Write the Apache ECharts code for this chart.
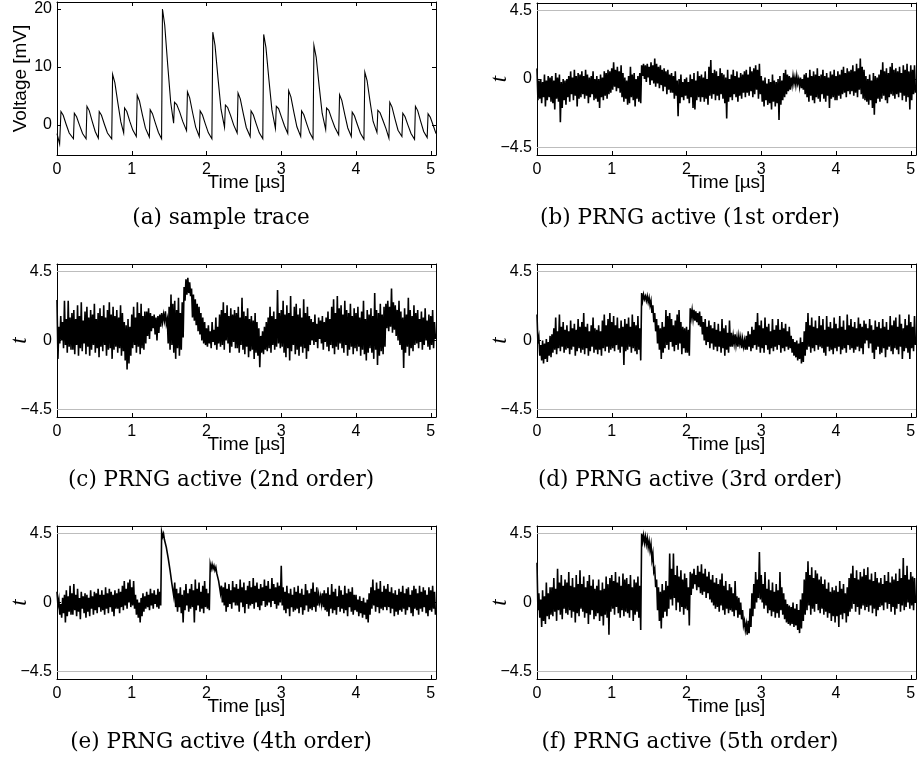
<!DOCTYPE html>
<html><head><meta charset="utf-8">
<script src="https://cdn.jsdelivr.net/npm/echarts@6/dist/echarts.min.js"></script>
<style>html,body{margin:0;padding:0;background:#fff}#c{width:920px;height:760px}</style>
</head><body><div id="c"></div>
<script>
// ---------- data ----------
const timeTicks = [0, 1, 2, 3, 4, 5];
const tTicks = [-4.5, 0, 4.5];
const voltTicks = [0, 10, 20];
const tThreshold = [4.5, -4.5];
const captions = ['(a) sample trace', '(b) PRNG active (1st order)', '(c) PRNG active (2nd order)',
  '(d) PRNG active (3rd order)', '(e) PRNG active (4th order)', '(f) PRNG active (5th order)'];

// (a) sample trace: time [µs] / voltage [mV]
const sampleTime = [
  0, 0.035, 0.053, 0.083, 0.123, 0.163, 0.220, 0.232, 0.262, 0.302, 0.342, 0.389, 0.401, 0.431, 0.471, 0.511,
  0.553, 0.565, 0.595, 0.635, 0.675, 0.732, 0.744, 0.774, 0.814, 0.854, 0.892, 0.904, 0.934, 0.974, 1.014,
  1.061, 1.073, 1.103, 1.143, 1.183, 1.235, 1.247, 1.277, 1.317, 1.357, 1.399, 1.411, 1.441, 1.481, 1.521,
  1.560, 1.572, 1.602, 1.642, 1.682, 1.733, 1.745, 1.775, 1.815, 1.855, 1.903, 1.915, 1.945, 1.985, 2.025,
  2.072, 2.084, 2.114, 2.154, 2.194, 2.241, 2.253, 2.283, 2.323, 2.363, 2.410, 2.422, 2.452, 2.492, 2.532,
  2.584, 2.596, 2.626, 2.666, 2.706, 2.753, 2.765, 2.795, 2.835, 2.875, 2.922, 2.934, 2.964, 3.004, 3.044,
  3.087, 3.099, 3.129, 3.169, 3.209, 3.260, 3.272, 3.302, 3.342, 3.382, 3.425, 3.437, 3.467, 3.507, 3.547,
  3.594, 3.606, 3.636, 3.676, 3.716, 3.768, 3.780, 3.810, 3.850, 3.890, 3.937, 3.949, 3.979, 4.019, 4.059,
  4.106, 4.118, 4.148, 4.188, 4.228, 4.280, 4.292, 4.322, 4.362, 4.402, 4.440, 4.452, 4.482, 4.522, 4.562,
  4.614, 4.626, 4.656, 4.696, 4.736, 4.783, 4.795, 4.825, 4.865, 4.905, 4.952, 4.964, 4.994, 5.034, 5.07];
const sampleVoltage = [
  -1.5, -3.3, 2.3, 1.66, 0.07, -1.41, -2.4, 2.0, 1.4, -0.1, -1.5, -2.4, 3.2, 2.46, 0.6, -1.14,
  -2.3, 2.3, 1.66, 0.07, -1.41, -2.4, 8.7, 7.3, 3.79, 0.51, -1.4, 2.9, 2.3, 0.6, -0.9,
  -2.0, 5.1, 4.13, 1.7, -0.57, -2.1, 2.6, 1.93, 0.25, -1.32, -2.4, 20.0, 17.24, 10.34, 3.9,
  0.3, 3.9, 3.5, 2.2, 0.6, -1.0, 5.7, 4.66, 2.05, -0.39, -2.0, 2.4, 1.75, 0.13, -1.38,
  -2.4, 16.0, 13.72, 8.02, 2.7, -0.4, 3.4, 3.0, 1.6, 0.0, -1.4, 5.5, 4.48, 1.93, -0.45,
  -2.0, 2.4, 1.75, 0.13, -1.38, -2.4, 15.6, 13.37, 7.79, 2.58, -0.6, 3.2, 2.8, 1.3, -0.2,
  -1.5, 5.9, 4.83, 2.16, -0.33, -2.0, 2.4, 1.75, 0.13, -1.38, -2.4, 13.7, 11.7, 6.69, 2.01,
  -0.8, 2.9, 2.5, 1.0, -0.4, -1.7, 5.2, 4.22, 1.76, -0.54, -2.0, 2.2, 1.58, 0.02, -1.44,
  -2.5, 9.1, 7.65, 4.02, 0.63, -1.3, 2.5, 2.1, 0.7, -0.7, -2.3, 3.9, 3.07, 1.0, -0.93,
  -2.0, 2.0, 1.4, -0.1, -1.5, -2.5, 3.2, 2.46, 0.6, -1.14, -2.2, 1.9, 1.31, -0.16, -1.5];

// (b)-(f): t-statistic traces, local upper / lower excursions every 0.025 µs
const noiseStep = 0.025;
const hiB = [
  0.7,-0.1,0.0,-0.2,0.3,-0.1,0.2,0.1, 0.2,-0.1,0.4,0.1,0.3,-0.2,0.0,-0.1, 0.0,0.2,0.5,0.1,0.6,0.2,0.4,0.3,
  0.5,0.2,0.6,0.3,0.1,0.2,0.5,0.0, 0.2,0.0,0.3,0.1,0.5,0.4,0.6,0.5, 0.7,1.1,0.6,0.8,0.5,0.9,0.4,0.1,
  -0.1,0.2,0.8,0.3,0.4,0.0,0.2,0.4, 0.9,1.0,0.9,1.0,0.8,1.1,0.9,1.35, 1.0,0.8,0.9,0.6,0.7,0.5,0.6,0.3,
  0.4,0.2,0.5,-0.1,0.0,0.3,-0.2,0.0, 0.1,-0.2,0.3,0.0,0.4,-0.1,0.5,0.2, 0.3,0.1,0.5,0.0,0.8,1.25,0.4,0.6,
  0.5,0.2,0.7,0.4,0.3,0.1,0.6,0.0, 0.3,0.6,0.2,0.5,0.1,0.4,0.3,0.5, 0.6,0.3,0.8,0.5,0.7,0.9,0.6,1.0,
  0.2,-0.1,0.1,-0.3,0.0,-0.2,0.3,-0.1, -0.2,0.0,0.2,-0.1,0.4,0.6,0.3,0.2, 0.1,0.2,0.1,0.2,0.0,0.1,0.0,0.3,
  0.4,0.1,0.6,0.2,0.5,0.3,0.7,0.2, 0.3,0.6,0.2,0.4,0.1,0.5,0.3,0.6, 0.2,0.5,0.3,0.6,0.8,0.4,0.7,0.5,
  0.6,0.9,0.5,1.0,0.7,1.35,0.8,0.6, 0.2,0.0,0.3,-0.1,0.4,0.2,0.1,0.3, 0.6,1.1,0.5,0.7,0.4,0.8,1.05,0.6,
  0.7,0.5,0.8,0.4,0.9,0.6,1.0,0.5, 0.9,0.6,0.9];
const loB = [
  -1.4,-1.3,-1.6,-1.2,-1.8,-1.4,-1.2,-1.5, -1.6,-2.0,-1.3,-1.5,-2.85,-1.9,-1.4,-1.7, -1.2,-1.5,-1.0,-1.4,-1.1,-1.8,-1.3,-1.2,
  -1.0,-1.3,-1.1,-1.6,-1.2,-1.0,-1.4,-1.3, -1.5,-1.9,-1.2,-1.4,-1.1,-1.3,-1.0,-0.9, -0.7,-0.5,-0.8,-0.6,-0.9,-1.2,-1.5,-1.3,
  -1.7,-1.6,-1.2,-1.4,-1.8,-1.3,-1.5,-1.6, 0.2,0.0,-0.2,0.1,-0.4,-0.1,-0.3,-0.5, -0.3,-0.6,-0.4,-0.8,-0.5,-1.0,-0.7,-0.9,
  -0.9,-1.3,-1.1,-2.45,-1.6,-1.2,-1.4,-1.1, -1.3,-1.6,-1.2,-1.9,-2.0,-1.4,-1.2,-1.5, -1.2,-1.5,-1.3,-1.7,-1.1,-1.3,-1.0,-1.4,
  -1.1,-1.4,-1.0,-1.3,-1.6,-2.6,-1.5,-1.2, -1.4,-1.0,-1.2,-1.5,-1.1,-1.3,-0.9,-1.2, -0.9,-1.1,-0.8,-1.2,-1.0,-0.7,-1.3,-1.0,
  -1.5,-1.8,-1.4,-1.7,-1.6,-2.0,-1.5,-1.8, -1.6,-2.7,-1.7,-1.4,-1.2,-1.0,-0.8,-0.7, -0.4,-0.3,-0.4,-0.3,-0.5,-0.6,-0.7,-1.0,
  -1.2,-1.5,-1.1,-1.4,-1.6,-1.2,-1.3,-1.5, -1.0,-1.3,-1.5,-1.1,-1.9,-1.3,-1.2,-1.4, -1.4,-1.1,-1.3,-1.0,-0.9,-1.2,-0.8,-1.0,
  -0.8,-1.1,-0.9,-1.2,-0.7,-1.0,-1.3,-1.4, -1.5,-1.7,-1.4,-1.9,-2.35,-1.6,-1.3,-1.5, -1.3,-1.1,-1.4,-1.6,-1.2,-1.0,-1.1,-1.3,
  -1.0,-1.2,-0.9,-1.4,-1.1,-1.5,-1.2,-2.0, -1.4,-1.0,-0.9];
const hiC = [
  2.65,0.9,1.6,1.2,2.6,1.4,2.6,1.5, 1.8,2.0,1.4,2.3,1.6,2.5,1.3,1.9, 2.2,1.5,2.0,1.7,2.4,1.4,1.8,2.1,
  1.6,2.3,1.5,2.0,2.5,1.7,2.2,1.6, 2.0,1.5,2.3,1.8,1.2,1.0,1.4,0.9, 1.7,2.2,1.5,2.5,1.8,2.4,1.6,1.9,
  1.9,2.1,1.8,1.6,1.7,1.5,1.6,1.7, 1.8,1.7,1.9,1.4,2.2,3.0,2.4,2.6, 2.0,2.8,1.8,2.5,3.5,4.0,4.1,3.8,
  3.4,3.0,2.7,2.4,2.2,1.8,1.5,1.2, 0.8,1.0,0.6,1.2,0.7,1.5,0.9,1.7, 2.0,2.5,1.8,2.3,1.6,2.1,1.7,2.0,
  1.8,2.2,1.5,2.8,1.9,1.6,2.1,1.4, 1.6,1.3,1.8,1.2,0.8,0.3,0.6,0.9, 1.2,1.5,2.2,1.6,1.9,1.4,3.3,1.8,
  2.0,2.6,1.7,2.3,1.8,2.9,1.6,2.2, 2.4,1.7,2.1,1.5,2.7,1.8,2.2,1.6, 1.4,1.2,1.7,1.1,1.5,1.3,1.6,1.2,
  1.5,1.9,1.4,2.2,2.7,1.8,2.9,2.1, 2.3,1.7,2.6,2.0,1.8,2.4,1.6,2.1, 1.8,2.2,1.5,1.9,2.6,1.4,2.0,1.7,
  2.1,1.6,3.1,2.0,1.8,2.4,1.7,2.2, 2.4,2.6,2.2,3.4,2.5,2.3,2.0,2.6, 1.9,1.5,2.1,1.7,2.8,2.0,1.6,2.3,
  1.8,2.0,1.4,1.9,1.5,2.1,1.3,1.7, 1.6,2.0,1.2];
const loC = [
  -1.2,-0.2,0.0,-0.5,-0.3,-0.8,-0.4,-0.6, -0.6,-0.9,-0.3,-1.0,-0.5,-0.7,-0.2,-0.9, -0.4,-1.0,-0.6,-0.3,-0.8,-0.5,-1.1,-0.4,
  -0.7,-0.3,-1.0,-0.6,-0.5,-1.2,-0.6,-0.4, -0.8,-0.5,-1.0,-0.7,-1.3,-1.9,-1.5,-1.0, -0.5,-0.3,-0.8,-0.4,-0.9,-0.5,-0.6,-0.2,
  0.3,0.1,0.6,0.8,0.4,0.0,0.5,0.9, 1.2,1.3,1.1,-0.2,-0.6,-0.3,-0.8,-1.2, -0.5,-1.0,-0.6,0.2,2.6,3.0,3.1,2.9,
  1.5,1.3,1.0,0.6,0.4,0.0,-0.2,-0.3, -0.4,-0.2,-0.5,-0.1,-0.3,-0.6,-0.2,-0.4, -0.3,-0.6,0.0,-0.2,-0.8,-0.4,-0.1,-0.5,
  -0.5,-0.8,-0.3,-0.6,-0.9,-0.4,-1.1,-0.7, -0.6,-1.2,-0.8,-1.0,-1.75,-0.8,-0.9,-0.6, -0.7,-0.5,-0.8,-0.3,-0.6,-0.4,-0.2,-0.5,
  -0.4,-0.8,-1.1,-0.5,-1.3,-0.7,-0.3,-0.9, -0.6,-1.0,-0.4,-0.8,-0.5,-1.2,-0.7,-0.3, 0.0,-0.3,-0.1,-0.5,0.1,-0.2,-0.6,-0.1,
  -0.4,-0.7,-0.3,-0.5,-0.9,-0.4,-0.6,-0.2, -0.5,-0.8,-0.3,-1.0,-0.6,-0.4,-0.9,-0.5, -0.7,-0.4,-1.0,-0.6,-0.9,-1.3,-0.8,-0.5,
  -0.8,-1.2,-0.6,-1.6,-1.0,-0.7,-0.9,-0.4, 0.8,0.6,0.9,0.5,0.7,0.3,0.0,-0.3, -0.6,-1.8,-0.8,-0.4,-1.0,-0.5,-0.7,-0.3,
  -0.2,-0.5,-0.1,-0.6,-0.3,0.0,-0.4,-0.6, -0.3,-0.5,0.1];
const hiD = [
  1.7,0.2,-0.3,0.0,-0.2,0.1,-0.1,0.3, 0.4,0.8,1.5,0.6,1.7,0.9,1.2,0.7, 1.0,0.6,1.3,0.8,1.1,0.7,1.4,0.9,
  1.2,1.8,0.9,1.1,0.6,1.0,1.5,0.8, 0.7,1.0,0.6,1.3,1.7,1.0,1.4,1.8, 1.2,1.6,1.0,1.5,0.8,1.3,0.9,1.4,
  1.1,1.5,0.9,1.7,1.2,1.0,1.6,0.8, 3.1,3.0,2.9,2.9,2.8,2.6,2.3,1.8, 1.4,1.0,0.8,1.2,0.9,2.0,1.6,1.8,
  1.4,1.0,1.3,1.7,2.0,1.2,0.9,0.8, 0.9,0.7,2.1,2.0,2.0,1.9,1.8,1.9, 1.6,1.2,1.4,0.9,1.3,1.0,0.8,1.2,
  0.7,1.1,0.6,1.4,0.8,1.0,0.5,1.3, 0.5,0.3,0.4,0.2,0.3,0.2,0.1,0.0, 0.3,0.6,0.4,0.9,0.7,1.2,1.8,1.0,
  1.3,0.8,1.5,0.9,1.1,0.6,1.4,0.7, 1.0,1.4,0.7,1.2,0.8,1.1,0.6,0.9, 0.3,0.1,-0.1,0.0,-0.2,0.2,-0.1,0.6,
  1.2,1.8,1.0,1.5,0.9,1.3,0.8,1.6, 1.0,1.4,0.7,1.6,0.9,1.2,0.8,1.5, 1.1,0.8,1.6,0.9,1.3,0.7,1.7,1.0,
  1.4,0.9,1.2,0.8,1.5,1.1,0.9,1.3, 1.1,0.8,1.4,1.0,0.7,1.3,0.9,1.2, 0.8,1.4,0.9,1.2,0.7,1.6,1.0,1.3,
  1.5,0.9,1.7,1.1,0.8,1.4,1.0,1.7, 1.2,0.9,1.6];
const loD = [
  -0.2,-1.0,-1.3,-1.5,-1.2,-1.4,-1.0,-1.1, -0.8,-0.6,-0.9,-0.5,-0.7,-0.4,-0.8,-0.6, -0.5,-0.9,-0.6,-0.4,-1.0,-0.7,-0.5,-0.8,
  -0.6,-0.9,-0.5,-1.0,-0.7,-0.4,-0.8,-0.6, -0.9,-0.6,-1.0,-0.5,-0.7,-0.4,-0.8,-0.6, -0.5,-0.7,-0.3,-0.6,-0.8,-0.4,-1.6,-0.7,
  -0.6,-0.4,-0.8,-0.5,-0.7,-0.9,-0.6,-1.3, 2.6,2.7,2.6,2.5,2.3,1.8,1.2,0.6, -0.2,-0.6,-1.2,-0.8,-0.5,-0.3,-0.6,-0.1,
  -0.4,-0.7,-0.3,-0.6,-0.2,-0.9,-0.5,-0.8, -0.8,-1.0,1.5,1.4,1.3,1.2,1.0,0.9, 0.4,0.0,-0.3,-0.1,-0.5,-0.2,-0.6,-0.4,
  -0.7,-0.4,-0.8,-0.5,-1.0,-0.6,-0.8,-0.4, -0.4,-0.2,-0.3,-0.4,-0.2,-0.5,-0.4,-0.6, -0.6,-0.4,-0.7,-0.5,-0.3,-0.6,-0.4,-0.8,
  -0.5,-0.8,-0.3,-0.6,-0.9,-0.5,-0.7,-0.4, -0.6,-0.3,-0.8,-0.5,-0.7,-0.4,-0.6,-0.5, -0.8,-1.0,-1.1,-1.3,-1.2,-1.5,-1.4,-1.0,
  -0.6,-0.4,-0.8,-0.5,-0.7,-0.3,-0.6,-0.4, -0.5,-0.8,-1.0,-0.4,-0.7,-0.6,-0.9,-0.5, -0.7,-0.4,-0.9,-0.6,-0.5,-0.8,-0.3,-0.6,
  -0.5,-0.8,-0.6,-0.4,-0.7,-0.5,-0.9,-0.2, 0.0,-0.5,-0.2,-0.8,-1.2,-0.6,-0.4,-0.9, -0.8,-0.5,-1.1,-0.6,-0.4,-0.7,-0.9,-0.5,
  -0.6,-0.9,-0.4,-1.2,-0.7,-0.5,-0.8,-1.2, -0.5,-0.7,-0.3];
const hiE = [
  0.7,0.2,-0.1,0.3,0.5,0.8,0.4,1.1, 0.6,1.2,0.5,0.9,0.3,0.7,0.4,0.6, 0.5,0.3,0.8,0.4,0.7,0.6,0.9,0.5,
  0.8,0.5,1.0,0.6,0.9,0.7,0.5,0.8, 0.6,0.9,0.7,1.1,1.4,0.9,1.3,1.5, 1.0,1.4,0.5,0.2,0.0,0.3,0.6,0.4,
  0.7,0.5,0.9,0.6,0.8,0.5,0.9,0.7, 4.6,4.5,4.0,3.5,2.8,2.0,1.3,1.3, 0.9,0.6,1.0,0.5,0.8,1.2,0.6,0.9,
  1.2,0.8,1.5,0.9,1.3,0.7,1.1,1.4, 0.9,0.6,2.5,2.5,2.4,2.3,2.0,1.5, 1.1,1.0,1.3,0.9,1.2,0.8,1.4,1.0,
  1.2,0.9,1.5,1.0,1.3,0.8,1.1,1.4, 1.0,1.6,1.1,1.3,0.9,1.2,1.0,1.5, 1.1,1.4,0.9,1.6,1.2,1.0,1.3,1.1,
  2.4,1.0,0.7,1.1,0.6,0.9,0.5,1.0, 0.7,1.1,0.6,0.9,0.5,1.2,0.8,0.6, 0.9,1.3,0.7,1.0,0.5,0.4,0.6,0.8,
  0.6,1.0,0.5,1.2,0.7,0.9,0.4,1.1, 0.8,0.5,1.1,0.6,0.9,0.7,1.0,0.5, 0.5,0.2,0.4,0.1,0.3,0.0,0.2,0.6,
  1.0,1.5,0.8,1.3,0.9,1.4,0.7,1.1, 0.9,1.2,0.7,1.0,0.6,0.8,0.5,0.9, 0.7,1.1,0.6,0.9,1.0,0.5,0.8,1.1,
  0.9,0.6,1.1,0.7,1.0,0.8,0.5,1.0, 0.8,1.1,0.7];
const loE = [
  -0.2,-0.8,-1.0,-0.7,-1.3,-0.9,-0.6,-0.8, -0.8,-0.5,-0.9,-0.6,-1.1,-0.4,-0.7,-1.0, -0.6,-0.9,-0.4,-0.8,-0.5,-0.7,-0.3,-0.6,
  -0.5,-0.8,-0.4,-0.7,-0.3,-0.6,-0.9,-0.4, -0.4,-0.7,-0.3,-0.5,-0.2,-0.4,0.0,-0.3, -0.2,-0.4,-0.8,-1.0,-1.3,-0.9,-0.6,-0.4,
  -0.3,-0.5,-0.2,-0.4,-0.1,-0.3,-0.4,-0.2, 4.3,4.1,3.6,2.9,2.1,1.2,0.4,-0.3, -0.6,-0.3,-0.7,-1.3,-0.5,-0.2,-0.6,-0.4,
  -0.3,-1.3,-0.5,-0.2,-0.6,-0.4,-0.7,-0.3, -0.4,-0.5,2.2,2.2,2.1,1.9,1.4,0.6, 0.0,-0.2,-0.6,-0.3,-0.1,-0.4,0.0,-0.2,
  -0.2,-0.6,0.0,-0.3,-0.7,-0.1,-0.4,-0.2, -0.1,-0.4,0.0,-0.3,-0.5,-0.2,0.1,-0.3, -0.2,0.0,-0.3,0.1,-0.1,-0.4,-0.2,0.0,
  -0.2,-0.5,-0.7,-0.4,-0.9,-0.3,-0.6,-0.5, -0.4,-0.7,-0.3,-0.8,-0.5,-0.2,-0.6,-0.4, -0.5,-0.3,-0.6,-0.2,0.0,-0.1,-0.3,-0.5,
  -0.6,-0.9,-0.4,-0.7,-0.5,-0.8,-0.3,-0.6, -0.4,-0.7,-0.5,-0.9,-0.3,-0.6,-0.8,-0.5, -0.6,-0.9,-0.7,-1.0,-0.8,-1.1,-1.3,-0.8,
  -0.4,-0.2,-0.6,-0.3,-0.7,-0.4,-0.5,-0.3, -0.5,-0.3,-0.7,-0.4,-0.9,-0.6,-0.8,-0.5, -0.6,-0.4,-0.8,-0.5,-0.3,-0.7,-0.9,-0.4,
  -0.5,-0.8,-0.4,-0.6,-0.3,-0.7,-0.9,-0.5, -0.6,-0.4,-0.8];
const hiF = [
  2.6,0.6,0.2,0.8,0.4,1.3,0.6,1.0, 1.0,1.6,0.9,2.2,1.3,1.8,1.1,1.5, 1.3,2.0,1.1,1.6,1.0,1.8,1.2,2.1,
  1.2,1.7,1.0,1.4,1.8,1.1,1.5,0.9, 1.1,1.5,0.8,1.3,0.9,1.7,1.2,1.6, 1.8,1.4,2.0,1.3,1.7,1.1,1.9,1.5,
  1.6,1.2,1.8,1.0,1.5,1.3,1.7,1.1, 4.5,4.4,4.3,4.2,4.0,3.8,3.2,2.2, 1.5,1.0,0.7,1.2,0.8,1.4,1.1,3.2,
  2.2,3.2,1.8,2.4,1.7,2.1,1.5,1.9, 1.6,1.0,2.0,1.9,2.2,1.8,2.4,2.0, 2.5,1.9,2.2,1.7,2.0,1.5,1.8,1.3,
  1.6,1.2,1.5,1.9,1.1,1.4,0.8,1.2, 1.0,0.6,1.4,0.4,0.3,0.0,-0.5,-1.2, -1.4,-1.2,-0.4,0.6,1.2,2.0,1.5,3.3,
  1.8,1.2,2.0,0.9,1.5,0.8,1.3,0.7, 1.2,0.8,2.0,1.0,0.6,0.2,-0.1,-0.2, -0.3,0.0,-0.4,-0.1,-0.5,0.2,0.6,1.5,
  2.0,2.7,1.8,2.3,1.6,2.1,1.9,1.5, 1.7,1.2,1.5,0.9,1.3,0.7,1.0,0.8, 1.1,0.7,1.4,0.9,1.2,0.6,1.0,1.6,
  1.9,2.4,1.6,2.1,1.5,2.0,1.7,2.2, 1.8,2.3,1.5,1.9,1.4,2.0,1.6,1.3, 1.6,1.2,1.8,1.4,2.0,1.3,1.7,1.5,
  1.9,1.4,2.2,1.6,2.9,1.8,2.4,1.5, 2.0,1.7,1.6];
const loF = [
  -0.5,-1.0,-1.6,-1.2,-1.4,-0.9,-1.1,-0.8, -0.9,-0.6,-1.2,-0.5,-0.8,-1.1,-0.4,-0.7, -0.8,-0.5,-1.0,-0.6,-1.3,-0.7,-0.9,-0.4,
  -0.6,-1.0,-0.7,-1.4,-0.8,-0.5,-1.1,-0.9, -0.7,-1.2,-0.9,-1.5,-0.8,-1.0,-2.1,-0.6, -0.4,-0.8,-0.3,-0.7,-1.0,-0.5,-0.9,-0.6,
  -0.7,-1.0,-0.5,-1.2,-0.8,-0.6,-1.0,-1.8, 4.0,3.9,3.8,3.6,3.4,2.8,2.0,1.0, -0.5,-1.2,-1.7,-1.0,-0.6,-0.9,-0.4,0.2,
  -0.2,0.3,-0.5,0.0,-0.6,-0.3,-0.8,-0.4, -0.5,-1.5,0.5,0.9,1.2,0.8,1.0,0.6, 0.5,0.7,0.3,0.6,0.2,0.0,-0.2,-0.4,
  -0.3,-0.6,-0.2,-0.5,-0.8,-0.4,-0.7,-0.5, -0.6,-0.9,-0.5,-1.0,-0.8,-1.1,-1.5,-1.8, -2.1,-2.0,-1.6,-0.9,-0.4,0.0,0.3,0.2,
  0.0,-0.4,-0.2,-0.7,-0.5,-0.9,-0.6,-1.0, -0.7,-1.0,-0.5,-0.8,-1.1,-1.3,-1.4,-1.5, -1.4,-1.6,-1.5,-1.8,-2.0,-1.7,-1.2,-0.8,
  -0.5,-0.2,-0.8,-0.4,-0.6,-0.1,-0.5,-0.7, -0.4,-0.8,-0.6,-1.0,-0.7,-1.2,-0.9,-1.3, -0.9,-1.6,-0.8,-1.1,-0.7,-1.3,-0.9,-0.6,
  -0.4,-0.1,-0.6,-0.3,-0.8,-0.4,-0.2,-0.5, -0.3,-0.6,-0.2,-0.7,-0.4,-0.9,-0.5,-0.3, -0.2,-0.5,0.0,-0.4,-0.1,-0.6,-0.3,-0.8,
  -0.4,-0.1,-0.6,-0.2,-0.5,-0.3,0.0,-0.4, -0.2,-0.5,0.0];

// ---------- build ----------
function trace(hi, lo) {
  const d = [];
  for (let i = 0; i < hi.length; i++) {
    d.push([i * noiseStep, hi[i]]);
    d.push([i * noiseStep + noiseStep / 2, lo[i]]);
  }
  return d;
}
const sampleData = sampleTime.map((t, i) => [t, sampleVoltage[i]]);
const panels = [sampleData, trace(hiB, loB), trace(hiC, loC), trace(hiD, loD), trace(hiE, loE), trace(hiF, loF)];

const SANS = '"Liberation Sans", Arial, Helvetica, sans-serif';
const SERIF = '"DejaVu Serif", serif';
const colLeft = [57, 537], plotW = 379, rowTop = [2, 264, 526], plotH = 153;
const capX = [221, 690], capY = [218, 480, 742];
const minus = v => String(v).replace('-', '\u2212');

const grid = [], xAxis = [], yAxis = [], series = [], graphic = [];
panels.forEach((data, k) => {
  const r = Math.floor(k / 2), c = k % 2;
  grid.push({left: colLeft[c], top: rowTop[r] + (k === 1 ? 1 : 0), width: plotW, height: plotH - (k === 1 ? 1 : 0),
    show: false, containLabel: false, outerBoundsMode: 'none'});
  const isA = k === 0;
  const yTicks = isA ? voltTicks : tTicks;
  const yMin = isA ? -5.2 : -5, yMax = isA ? 21.2 : 5;
  const axLine = {show: true, onZero: false, lineStyle: {color: '#000', width: 1}};
  const tick = (vals) => ({show: true, inside: true, length: 4, lineStyle: {color: '#000', width: 1}, customValues: vals});
  xAxis.push({gridIndex: k, type: 'value', position: 'bottom', min: 0, max: 5.07, interval: 1,
    axisLine: axLine, axisTick: tick(timeTicks), splitLine: {show: false},
    axisLabel: {customValues: timeTicks, margin: 7, color: '#000', fontSize: 16, fontFamily: SANS,
      formatter: v => (Number.isInteger(v) ? String(v) : '')},
    name: 'Time [\u00b5s]', nameLocation: 'middle', nameGap: 18, nameMoveOverlap: false,
    nameTextStyle: {color: '#000', fontSize: 19, fontFamily: SANS}});
  xAxis.push({gridIndex: k, type: 'value', position: 'top', min: 0, max: 5.07, interval: 1,
    axisLine: axLine, axisTick: tick(timeTicks), axisLabel: {show: false}, splitLine: {show: false}});
  yAxis.push({gridIndex: k, type: 'value', position: 'left', min: yMin, max: yMax,
    axisLine: axLine, axisTick: tick(yTicks), splitLine: {show: false},
    axisLabel: {customValues: yTicks, margin: 5, color: '#000', fontSize: 16, fontFamily: SANS, formatter: minus},
    name: isA ? 'Voltage [mV]' : 't', nameLocation: 'middle', nameRotate: 90, nameGap: isA ? 27 : 26, nameMoveOverlap: false,
    nameTextStyle: isA ? {color: '#000', fontSize: 19, fontFamily: SANS}
      : {color: '#000', fontSize: 23, fontFamily: '"Liberation Serif", serif', fontStyle: 'italic'}});
  yAxis.push({gridIndex: k, type: 'value', position: 'right', min: yMin, max: yMax,
    axisLine: axLine, axisTick: tick(yTicks), axisLabel: {show: false}, splitLine: {show: false}});
  const s = {type: 'line', xAxisIndex: 2 * k, yAxisIndex: 2 * k, data: data, showSymbol: false, symbol: 'none',
    sampling: null, z: 3, lineStyle: {color: '#000', width: isA ? 1.1 : 1.6, join: 'miter'}, animation: false, silent: true};
  if (!isA) {
    s.markLine = {silent: true, symbol: ['none', 'none'], z: 1, animation: false, label: {show: false},
      lineStyle: {color: '#bdbdbd', width: 1, type: 'solid'},
      data: tThreshold.map(v => ({yAxis: v}))};
  }
  series.push(s);
  graphic.push({type: 'text', x: capX[c], y: capY[r], silent: true,
    style: {text: captions[k], fill: '#000', fontSize: 21.5, fontFamily: SERIF,
      align: 'center', verticalAlign: 'middle', textAlign: 'center', textVerticalAlign: 'middle'}});
});

const chart = echarts.init(document.getElementById('c'), null, {renderer: 'canvas'});
chart.setOption({animation: false, backgroundColor: '#fff', grid, xAxis, yAxis, series, graphic});
</script></body></html>
